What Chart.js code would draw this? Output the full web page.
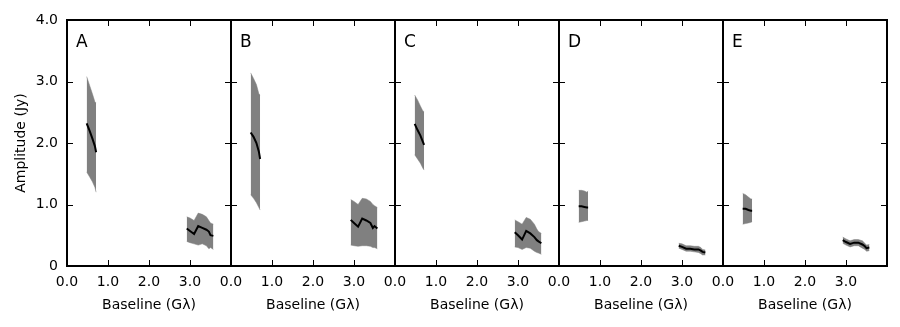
<!DOCTYPE html>
<html>
<head>
<meta charset="utf-8">
<script src="https://cdn.jsdelivr.net/npm/chart.js@4"></script>
<style>
  html, body { margin: 0; padding: 0; background: #fff; }
  #wrap { position: relative; width: 900px; height: 327px; }
  #wrap canvas { position: absolute; top: 0; }
</style>
</head>
<body>
<div id="wrap"></div>
<script>
// panel letters
const panels = ["A", "B", "C", "D", "E"];

// baselines (Gλ) of the two clusters
const shortX = [0.48, 0.55, 0.62, 0.68, 0.71];
const longX = [2.92, 3.0, 3.1, 3.2, 3.3, 3.4, 3.46, 3.5, 3.57];

// amplitude (Jy): model line, upper and lower edge of the grey band
const shortMid = [
  [2.32, 2.2, 2.07, 1.95, 1.85],
  [2.17, 2.1, 2.0, 1.86, 1.74],
  [2.31, 2.21, 2.12, 2.02, 1.97],
  [0.97, 0.97, 0.96, 0.95, 0.95],
  [0.93, 0.93, 0.91, 0.9, 0.9],
];
const shortHi = [
  [3.08, 2.94, 2.8, 2.67, 2.65],
  [3.14, 3.05, 2.95, 2.8, 2.78],
  [2.78, 2.7, 2.6, 2.52, 2.51],
  [1.23, 1.23, 1.22, 1.2, 1.22],
  [1.18, 1.16, 1.12, 1.09, 1.09],
];
const shortLo = [
  [1.53, 1.45, 1.37, 1.28, 1.2],
  [1.16, 1.1, 1.03, 0.95, 0.91],
  [1.81, 1.74, 1.67, 1.59, 1.56],
  [0.71, 0.72, 0.73, 0.74, 0.74],
  [0.68, 0.69, 0.7, 0.71, 0.72],
];
const longMid = [
  [0.61, 0.57, 0.52, 0.65, 0.62, 0.59, 0.56, 0.5, 0.49],
  [0.75, 0.7, 0.64, 0.77, 0.74, 0.7, 0.62, 0.65, 0.61],
  [0.55, 0.5, 0.43, 0.57, 0.53, 0.47, 0.42, 0.4, 0.37],
  [0.33, 0.31, 0.28, 0.28, 0.27, 0.27, 0.25, 0.23, 0.22],
  [0.42, 0.39, 0.36, 0.38, 0.38, 0.35, 0.32, 0.29, 0.3],
];
const longHi = [
  [0.8, 0.78, 0.74, 0.86, 0.84, 0.8, 0.74, 0.7, 0.68],
  [1.08, 1.05, 1.0, 1.1, 1.09, 1.05, 1.0, 0.98, 0.95],
  [0.75, 0.72, 0.68, 0.79, 0.76, 0.68, 0.6, 0.56, 0.53],
  [0.37, 0.36, 0.33, 0.33, 0.32, 0.32, 0.3, 0.27, 0.26],
  [0.47, 0.44, 0.41, 0.43, 0.43, 0.41, 0.37, 0.34, 0.35],
];
const longLo = [
  [0.4, 0.38, 0.36, 0.34, 0.36, 0.33, 0.28, 0.3, 0.27],
  [0.34, 0.33, 0.32, 0.33, 0.33, 0.32, 0.3, 0.3, 0.28],
  [0.31, 0.3, 0.27, 0.3, 0.29, 0.24, 0.22, 0.21, 0.19],
  [0.29, 0.27, 0.24, 0.24, 0.23, 0.22, 0.2, 0.18, 0.18],
  [0.37, 0.34, 0.31, 0.33, 0.33, 0.29, 0.27, 0.24, 0.25],
];

// tick labels
const xTickLabels = ["0.0", "1.0", "2.0", "3.0", ""];
const yTickLabels = ["0", "1.0", "2.0", "3.0", "4.0"];

const FONT = "DejaVu Sans";
const GREY = "#808080";
const plotLeft = 67, plotW = 164, plotTop = 20, plotBottom = 266, H = 327;

function pts(xs, ys) {
  return xs.map((x, i) => ({ x: x, y: ys[i] }));
}

// frame, inward ticks and panel letter
const framePlugin = {
  id: "frame",
  afterDatasetsDraw(chart) {
    const { ctx, chartArea: a, scales } = chart;
    ctx.save();
    ctx.strokeStyle = "#000";
    ctx.lineWidth = 1;
    const t = 6;
    ctx.beginPath();
    [1, 2, 3].forEach(v => {
      const x = Math.round(scales.x.getPixelForValue(v)) + 0.5;
      ctx.moveTo(x, a.bottom); ctx.lineTo(x, a.bottom - t);
      ctx.moveTo(x, a.top); ctx.lineTo(x, a.top + t);
      const y = Math.round(scales.y.getPixelForValue(v)) + 0.5;
      ctx.moveTo(a.left, y); ctx.lineTo(a.left + t, y);
      ctx.moveTo(a.right, y); ctx.lineTo(a.right - t, y);
    });
    ctx.stroke();
    ctx.lineWidth = 2;
    ctx.strokeRect(a.left, a.top, a.right - a.left, a.bottom - a.top);
    ctx.fillStyle = "#000";
    ctx.font = "17px '" + FONT + "'";
    ctx.textBaseline = "middle";
    ctx.textAlign = "left";
    ctx.fillText(chart.options.panelLabel, a.left + 9, a.top + 23);
    ctx.restore();
  }
};

const wrap = document.getElementById("wrap");

panels.forEach((label, i) => {
  const first = i === 0;
  const canvas = document.createElement("canvas");
  const left = first ? 0 : plotLeft + plotW * i - 20;
  const width = first ? plotLeft + plotW + 20 : plotW + 40;
  canvas.width = width;
  canvas.height = H;
  canvas.style.left = left + "px";
  canvas.style.width = width + "px";
  canvas.style.height = H + "px";
  wrap.appendChild(canvas);

  const line = { borderColor: "#000", borderWidth: 2, pointRadius: 0, fill: false, tension: 0 };
  const band = { borderColor: GREY, borderWidth: 0.5, backgroundColor: GREY, pointRadius: 0, tension: 0 };

  new Chart(canvas.getContext("2d"), {
    type: "line",
    data: {
      datasets: [
        { ...line, data: pts(shortX, shortMid[i]) },
        { ...line, data: pts(longX, longMid[i]) },
        { ...band, data: pts(shortX, shortHi[i]), fill: "+1" },
        { ...band, data: pts(shortX, shortLo[i]), fill: false },
        { ...band, data: pts(longX, longHi[i]), fill: "+1" },
        { ...band, data: pts(longX, longLo[i]), fill: false },
      ],
    },
    options: {
      panelLabel: label,
      responsive: false,
      animation: false,
      layout: { padding: { top: plotTop, left: first ? 0 : 20, right: 20, bottom: 0 } },
      plugins: { legend: { display: false }, tooltip: { enabled: false } },
      scales: {
        x: {
          type: "linear",
          min: 0,
          max: 4,
          grid: { display: false, drawTicks: false },
          border: { display: false },
          ticks: {
            stepSize: 1,
            padding: 8,
            maxRotation: 0,
            autoSkip: false,
            color: "#000",
            font: { family: FONT, size: 14 },
            callback: v => xTickLabels[v],
          },
          title: {
            display: true,
            text: "Baseline (Gλ)",
            color: "#000",
            font: { family: FONT, size: 14 },
            padding: { top: 0, bottom: 13 },
          },
          afterFit: s => { s.height = H - plotBottom; },
        },
        y: {
          display: first,
          min: 0,
          max: 4,
          grid: { display: false, drawTicks: false },
          border: { display: false },
          ticks: {
            stepSize: 1,
            padding: 9,
            color: "#000",
            font: { family: FONT, size: 14 },
            callback: v => yTickLabels[v],
          },
          title: {
            display: true,
            text: "Amplitude (Jy)",
            color: "#000",
            font: { family: FONT, size: 14 },
            padding: { top: 13, bottom: 0 },
          },
          afterFit: s => { s.width = first ? plotLeft : 0; },
        },
      },
    },
    plugins: [framePlugin],
  });
});
</script>
</body>
</html>
